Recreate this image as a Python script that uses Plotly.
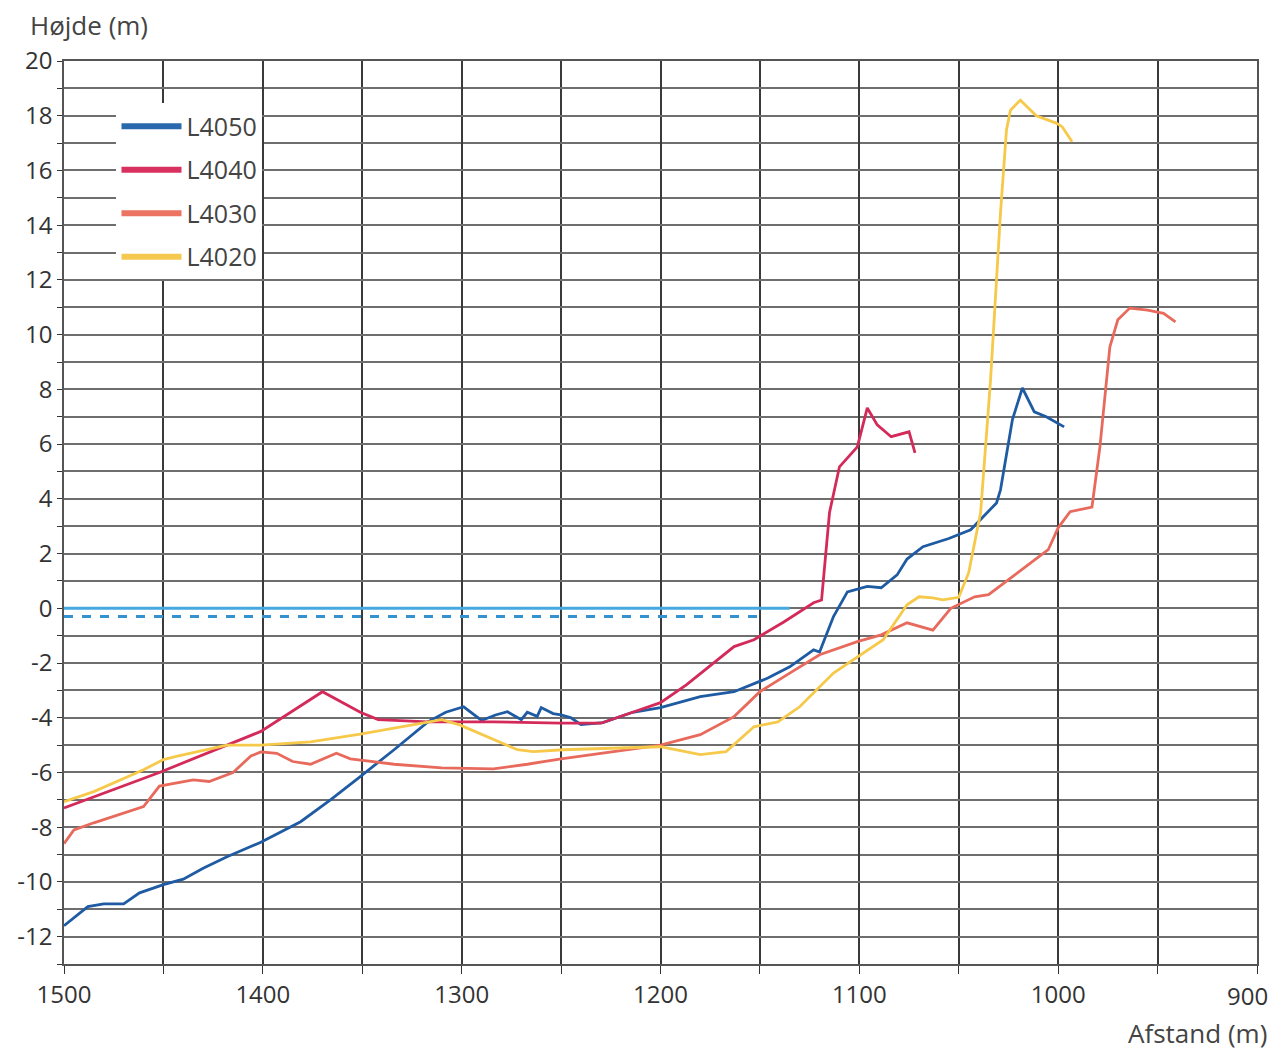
import plotly.graph_objects as go

# ---- data (distance in m, height in m) ----
l4050_d = [1500, 1495, 1488, 1480, 1470, 1462, 1450, 1440, 1430, 1418, 1401, 1381, 1366, 1351, 1334, 1317,
           1308, 1299, 1290, 1283, 1277, 1270, 1267, 1262, 1260, 1254, 1250, 1245, 1240, 1229, 1214, 1200,
           1180, 1163, 1146, 1135, 1123, 1120, 1113, 1106, 1096, 1089, 1081, 1076, 1068, 1055, 1044, 1031,
           1029, 1023, 1018, 1012, 1006, 997]
l4050_h = [-11.6, -11.3, -10.9, -10.8, -10.8, -10.4, -10.1, -9.9, -9.5, -9.08, -8.55, -7.8, -7.0, -6.15, -5.17, -4.15,
           -3.8, -3.6, -4.1, -3.9, -3.78, -4.07, -3.8, -3.95, -3.63, -3.85, -3.9, -4.0, -4.25, -4.18, -3.8, -3.63,
           -3.23, -3.05, -2.55, -2.14, -1.52, -1.6, -0.3, 0.6, 0.8, 0.75, 1.22, 1.8, 2.25, 2.55, 2.87, 3.85,
           4.33, 6.9, 8.05, 7.18, 7.0, 6.63]

l4040_d = [1500, 1452, 1401, 1370, 1351, 1342, 1317, 1284, 1250, 1230, 1214, 1200, 1187, 1163, 1153, 1138, 1123,
           1119, 1115, 1110, 1101, 1096, 1091, 1084, 1075, 1072]
l4040_h = [-7.3, -6.0, -4.5, -3.05, -3.8, -4.07, -4.15, -4.15, -4.2, -4.2, -3.8, -3.45, -2.8, -1.4, -1.15, -0.5, 0.2,
           0.3, 3.5, 5.17, 5.9, 7.32, 6.7, 6.27, 6.45, 5.68]

l4030_d = [1500, 1495, 1485, 1460, 1452, 1435, 1427, 1415, 1406, 1401, 1393, 1385, 1376, 1368, 1363, 1356, 1334,
           1310, 1284, 1267, 1250, 1200, 1180, 1163, 1150, 1135, 1120, 1101, 1089, 1076, 1063, 1054, 1042, 1035,
           1025, 1005, 1000, 994, 983, 979, 974, 970, 964, 955, 947, 941]
l4030_h = [-8.6, -8.1, -7.84, -7.25, -6.5, -6.27, -6.33, -6.0, -5.4, -5.25, -5.3, -5.6, -5.7, -5.47, -5.3, -5.5, -5.7,
           -5.83, -5.87, -5.7, -5.5, -5.0, -4.62, -3.96, -3.05, -2.37, -1.7, -1.22, -0.97, -0.53, -0.8, 0.0, 0.42, 0.5,
           1.04, 2.14, 2.94, 3.53, 3.7, 5.9, 9.55, 10.54, 10.97, 10.9, 10.78, 10.47]

l4020_d = [1500, 1485, 1460, 1450, 1443, 1418, 1401, 1376, 1351, 1326, 1310, 1301, 1284, 1272, 1264, 1249, 1200,
           1180, 1167, 1153, 1141, 1130, 1113, 1096, 1088, 1076, 1070, 1063, 1058, 1050, 1045, 1039, 1034, 1029,
           1026, 1024, 1019, 1011, 1001, 998, 993]
l4020_h = [-7.07, -6.7, -5.9, -5.53, -5.4, -5.0, -5.0, -4.88, -4.6, -4.26, -4.07, -4.26, -4.8, -5.17, -5.24, -5.17, -5.06,
           -5.35, -5.24, -4.33, -4.15, -3.6, -2.37, -1.52, -1.15, 0.13, 0.42, 0.38, 0.31, 0.4, 1.3, 3.5, 8.35, 14.45,
           17.48, 18.2, 18.57, 18.0, 17.73, 17.6, 17.05]

water_d = [1500, 1135]
water_h = [0.0, 0.0]
water2_d = [1500, 1150]
water2_h = [-0.3, -0.3]

series_names = ["L4050", "L4040", "L4030", "L4020"]
series_colors = ["#1f5ba3", "#d42a5a", "#e86a5c", "#f6c94a"]
legend_colors = ["#2a68ad", "#d8305f", "#ec7262", "#f5c850"]

x_ticks = [1500, 1400, 1300, 1200, 1100, 1000, 900]
y_ticks = [20, 18, 16, 14, 12, 10, 8, 6, 4, 2, 0, -2, -4, -6, -8, -10, -12]

fig = go.Figure()

# water levels (not in legend)
fig.add_trace(go.Scatter(x=water_d, y=water_h, mode="lines", showlegend=False,
                         line=dict(color="#45a9e0", width=3), hoverinfo="skip"))
fig.add_trace(go.Scatter(x=water2_d, y=water2_h, mode="lines", showlegend=False,
                         line=dict(color="#3592d0", width=3, dash="dash"), hoverinfo="skip"))

data = [(l4050_d, l4050_h), (l4040_d, l4040_h), (l4030_d, l4030_h), (l4020_d, l4020_h)]
for (dd, hh), name, col in zip(data, series_names, series_colors):
    fig.add_trace(go.Scatter(x=dd, y=hh, mode="lines", name=name, legendgroup=name, showlegend=False,
                             line=dict(color=col, width=2.8)))
# legend entries with thick swatches
for name, col in zip(series_names, legend_colors):
    fig.add_trace(go.Scatter(x=[None], y=[None], mode="lines", name=name, legendgroup=name,
                             line=dict(color=col, width=6), hoverinfo="skip"))

font_family = "Open Sans, Noto Sans, DejaVu Sans, sans-serif"

# the last tick label sits at the right edge: draw it as an annotation anchored to its right end
tick_text = [str(v) for v in x_ticks[:-1]] + [""]

fig.update_layout(
    width=1273, height=1050,
    margin=dict(l=64, r=16, t=61, b=86),
    paper_bgcolor="white", plot_bgcolor="white",
    font=dict(family=font_family, color="#333333", size=23),
    legend=dict(x=0.044, y=0.953, xanchor="left", yanchor="top",
                bgcolor="white", borderwidth=0,
                font=dict(size=25, color="#444444"),
                tracegroupgap=8, itemwidth=60),
    xaxis=dict(range=[1500, 900], tickvals=x_ticks, ticktext=tick_text,
               automargin=False,
               showgrid=True, gridcolor="#3a3a3a", gridwidth=1.5,
               ticks="outside", ticklen=8, tickcolor="#333333",
               ticklabeloverflow="allow",
               minor=dict(dtick=50, tick0=0, showgrid=True, gridcolor="#3a3a3a", gridwidth=1.5,
                          ticks="outside", ticklen=8, tickcolor="#333333"),
               showline=True, linecolor="#555555", linewidth=1.5, mirror=True,
               zeroline=False, tickfont=dict(size=24)),
    yaxis=dict(range=[-13, 20], tickvals=y_ticks, ticktext=[str(v) for v in y_ticks],
               automargin=False,
               showgrid=True, gridcolor="#6e6e6e", gridwidth=1.5,
               ticks="outside", ticklen=5, tickcolor="#333333",
               ticklabeloverflow="allow",
               minor=dict(dtick=1, showgrid=True, gridcolor="#6e6e6e", gridwidth=1.5,
                          ticks="outside", ticklen=5, tickcolor="#333333"),
               showline=True, linecolor="#555555", linewidth=1.5, mirror=True,
               zeroline=False, tickfont=dict(size=24)),
    annotations=[
        dict(text="Højde (m)", xref="paper", yref="paper", x=0, xshift=-36, y=1.0, yshift=36,
             xanchor="left", yanchor="middle", showarrow=False, font=dict(size=26, color="#444444")),
        dict(text="Afstand (m)", xref="paper", yref="paper", x=1, xshift=12, y=0, yshift=-69,
             xanchor="right", yanchor="middle", showarrow=False, font=dict(size=26, color="#444444")),
        dict(text=str(x_ticks[-1]), xref="x", yref="paper", x=x_ticks[-1], xshift=13, y=0, yshift=-31,
             xanchor="right", yanchor="middle", showarrow=False, font=dict(size=24, color="#333333")),
    ],
)

fig.write_html("out.html", config={"displayModeBar": False},
               post_script="document.body.style.margin='0';document.body.style.overflow='hidden';")
